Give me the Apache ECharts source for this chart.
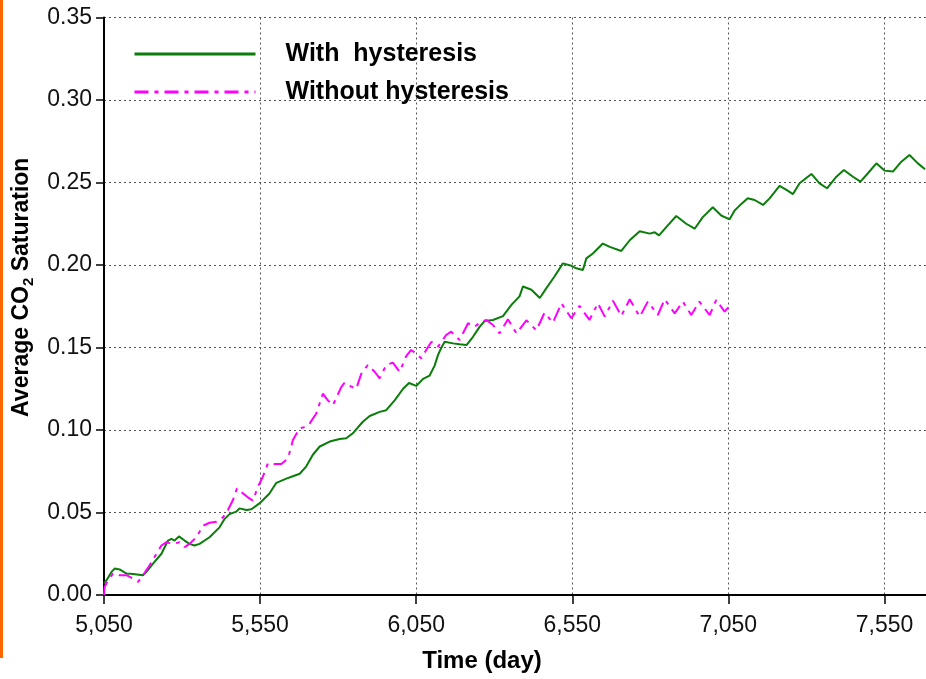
<!DOCTYPE html>
<html>
<head>
<meta charset="utf-8">
<script src="https://cdn.jsdelivr.net/npm/echarts@6/dist/echarts.min.js"></script>
<style>
html,body{margin:0;padding:0;background:#fff;}
#chart{width:926px;height:679px;}
</style>
</head>
<body>
<div id="chart"></div>
<script>
// ---- data ----
var seriesNames = ['With  hysteresis', 'Without hysteresis'];
var xTicks = [5050, 5550, 6050, 6550, 7050, 7550];
var yTicks = [0.00, 0.05, 0.10, 0.15, 0.20, 0.25, 0.30, 0.35];

var withDays = [5050, 5058, 5074, 5084, 5100, 5122, 5143, 5175, 5186, 5207, 5234, 5255, 5266, 5276, 5290, 5308, 5324, 5340, 5356, 5388, 5420, 5436, 5452, 5474, 5484, 5506, 5522, 5548, 5580, 5602, 5634, 5655, 5677, 5698, 5719, 5741, 5773, 5805, 5826, 5847, 5879, 5901, 5933, 5954, 5981, 6008, 6027, 6050, 6072, 6093, 6109, 6120, 6131, 6141, 6168, 6189, 6211, 6232, 6253, 6269, 6296, 6328, 6355, 6381, 6392, 6419, 6446, 6467, 6493, 6520, 6547, 6563, 6584, 6595, 6616, 6648, 6670, 6707, 6734, 6766, 6798, 6814, 6828, 6851, 6883, 6915, 6942, 6968, 7000, 7027, 7054, 7070, 7086, 7112, 7134, 7161, 7182, 7214, 7236, 7257, 7278, 7316, 7342, 7366, 7396, 7420, 7449, 7473, 7497, 7524, 7550, 7577, 7604, 7630, 7657, 7680];
var withSat = [0.007, 0.009, 0.014, 0.016, 0.0155, 0.013, 0.0127, 0.012, 0.014, 0.019, 0.025, 0.033, 0.034, 0.033, 0.0355, 0.033, 0.031, 0.030, 0.031, 0.035, 0.041, 0.046, 0.049, 0.0505, 0.0525, 0.0515, 0.052, 0.0555, 0.0615, 0.068, 0.0705, 0.072, 0.0735, 0.078, 0.085, 0.090, 0.093, 0.0945, 0.095, 0.098, 0.105, 0.1085, 0.111, 0.112, 0.118, 0.125, 0.1285, 0.1267, 0.131, 0.133, 0.139, 0.1455, 0.150, 0.1535, 0.1525, 0.152, 0.1515, 0.1565, 0.1625, 0.166, 0.1667, 0.169, 0.1758, 0.181, 0.187, 0.185, 0.180, 0.186, 0.193, 0.201, 0.1995, 0.198, 0.197, 0.204, 0.207, 0.213, 0.211, 0.2085, 0.215, 0.2205, 0.219, 0.2198, 0.218, 0.223, 0.2297, 0.225, 0.222, 0.229, 0.235, 0.230, 0.2277, 0.233, 0.236, 0.2404, 0.2394, 0.2364, 0.2404, 0.248, 0.2455, 0.243, 0.2495, 0.2552, 0.2495, 0.2465, 0.2535, 0.2576, 0.2535, 0.2505, 0.2556, 0.2616, 0.2572, 0.2566, 0.2626, 0.2667, 0.2616, 0.258];

var withoutDays = [5050, 5052, 5063, 5079, 5100, 5122, 5143, 5159, 5175, 5196, 5218, 5234, 5250, 5271, 5292, 5308, 5324, 5346, 5367, 5388, 5410, 5431, 5447, 5463, 5476, 5495, 5511, 5527, 5543, 5559, 5575, 5597, 5618, 5639, 5650, 5655, 5677, 5698, 5709, 5730, 5751, 5767, 5783, 5810, 5821, 5842, 5858, 5874, 5895, 5917, 5933, 5954, 5975, 5997, 6018, 6034, 6055, 6066, 6082, 6099, 6120, 6146, 6162, 6189, 6216, 6237, 6259, 6275, 6296, 6317, 6344, 6371, 6403, 6435, 6461, 6488, 6515, 6547, 6573, 6605, 6632, 6654, 6680, 6707, 6734, 6766, 6792, 6824, 6846, 6878, 6904, 6931, 6957, 6990, 7011, 7038, 7060];
var withoutSat = [0.000, 0.005, 0.009, 0.013, 0.012, 0.012, 0.010, 0.008, 0.012, 0.018, 0.025, 0.030, 0.032, 0.031, 0.032, 0.029, 0.031, 0.035, 0.042, 0.0438, 0.0444, 0.047, 0.0515, 0.0576, 0.0646, 0.0616, 0.0592, 0.0572, 0.0656, 0.0717, 0.0798, 0.0794, 0.0794, 0.0828, 0.090, 0.094, 0.101, 0.102, 0.104, 0.110, 0.122, 0.118, 0.115, 0.126, 0.1287, 0.1263, 0.125, 0.134, 0.1394, 0.1353, 0.1313, 0.1394, 0.1408, 0.1353, 0.1448, 0.1485, 0.1455, 0.1434, 0.1485, 0.1535, 0.1505, 0.1576, 0.1596, 0.1545, 0.1647, 0.1626, 0.1656, 0.1667, 0.1636, 0.1586, 0.1671, 0.1586, 0.1665, 0.1604, 0.1711, 0.165, 0.1768, 0.1677, 0.1752, 0.1667, 0.1768, 0.1687, 0.1784, 0.1691, 0.1792, 0.1687, 0.1778, 0.1697, 0.1792, 0.1707, 0.1778, 0.1697, 0.1778, 0.1697, 0.1788, 0.1717, 0.1768];

function zip(a, b) { return a.map(function (v, i) { return [v, b[i]]; }); }
function addCommas(n) { return String(Math.round(n)).replace(/\B(?=(\d{3})+(?!\d))/g, ','); }

var FONT = '"Liberation Sans", Arial, Helvetica, sans-serif';
var xMin = xTicks[0], xStep = xTicks[1] - xTicks[0], xMax = 7683;
var yMin = yTicks[0], yStep = 0.05, yMax = yTicks[yTicks.length - 1];

var chart = echarts.init(document.getElementById('chart'), null, {renderer: 'canvas'});
chart.setOption({
  animation: false,
  backgroundColor: '#ffffff',
  graphic: [{
    type: 'rect', left: 0, top: 0, z: 100,
    shape: {width: 3, height: 658},
    style: {fill: '#ff6600'}
  }],
  grid: {left: 104, right: 0, top: 17.5, bottom: 84, containLabel: false},
  legend: {
    left: 133, top: 40, orient: 'vertical', padding: 0,
    itemWidth: 121, itemHeight: 28, itemGap: 10,
    data: seriesNames,
    lineStyle: {width: 3},
    itemStyle: {opacity: 0},
    textStyle: {fontFamily: FONT, fontSize: 25, fontWeight: 'bold', color: '#000', lineHeight: 28, padding: [0, 0, 0, 25]}
  },
  xAxis: [{
    type: 'value', min: xMin, max: xMax, interval: xStep,
    name: 'Time (day)', nameLocation: 'middle', nameGap: 54,
    nameTextStyle: {fontFamily: FONT, fontSize: 24, fontWeight: 'bold', color: '#000', padding: [0, 66, 0, 0]},
    axisLine: {show: true, onZero: false, lineStyle: {color: '#000', width: 2}},
    axisTick: {show: true, length: 9, lineStyle: {color: '#000', width: 1.5}},
    axisLabel: {
      margin: 19, fontFamily: FONT, fontSize: 23, color: '#111', showMaxLabel: false,
      formatter: function (v) { return xTicks.indexOf(Math.round(v)) >= 0 ? addCommas(v) : ''; }
    },
    splitLine: {show: true, lineStyle: {color: '#555', width: 1, type: [2, 3]}}
  }, {
    type: 'value', position: 'top', min: xMin, max: xMax,
    axisLine: {show: true, lineStyle: {color: '#000', width: 2}},
    axisTick: {show: false}, axisLabel: {show: false}, splitLine: {show: false}
  }],
  yAxis: {
    type: 'value', min: yMin, max: yMax, interval: yStep,
    name: '{a|Average CO}{s|2}{a| Saturation}', nameLocation: 'middle', nameGap: 59, nameRotate: 90,
    nameTextStyle: {
      padding: [0, 0, 0, 38],
      rich: {
        a: {fontFamily: FONT, fontSize: 23, fontWeight: 'bold', color: '#000', lineHeight: 30, verticalAlign: 'middle'},
        s: {fontFamily: FONT, fontSize: 15, fontWeight: 'bold', color: '#000', lineHeight: 30, verticalAlign: 'bottom', padding: [12, 0, 0, 0]}
      }
    },
    axisLine: {show: true, onZero: false, lineStyle: {color: '#000', width: 2}},
    axisTick: {show: true, length: 8, lineStyle: {color: '#000', width: 1.5}},
    axisLabel: {
      margin: 12, fontFamily: FONT, fontSize: 23, color: '#111',
      formatter: function (v) { return v.toFixed(2); }
    },
    splitLine: {show: true, lineStyle: {color: '#555', width: 1, type: [2, 3]}}
  },
  series: [{
    name: seriesNames[0], type: 'line', xAxisIndex: 0, data: zip(withDays, withSat),
    showSymbol: false, symbol: 'none', smooth: false,
    lineStyle: {color: '#0a7d0a', width: 2},
    itemStyle: {color: '#0a7d0a'}
  }, {
    name: seriesNames[1], type: 'line', xAxisIndex: 0, data: zip(withoutDays, withoutSat),
    showSymbol: false, symbol: 'none', smooth: false,
    lineStyle: {color: '#ff00ff', width: 2, type: [14, 6, 4, 6]},
    itemStyle: {color: '#ff00ff'}
  }]
});
</script>
</body>
</html>
